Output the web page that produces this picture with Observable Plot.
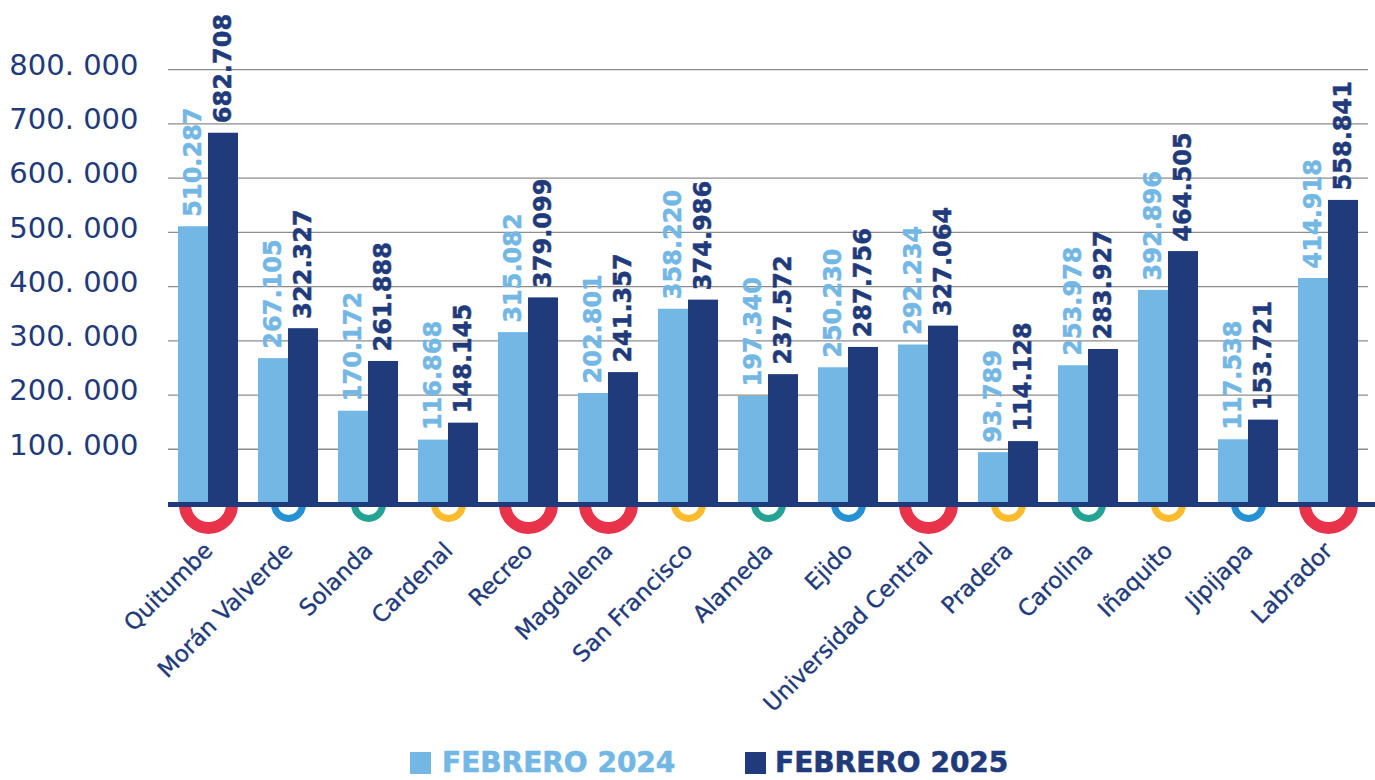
<!DOCTYPE html>
<html>
<head>
<meta charset="utf-8">
<script src="https://cdn.jsdelivr.net/npm/d3@7"></script>
<script src="https://cdn.jsdelivr.net/npm/@observablehq/plot@0.6"></script>
<style>
  html, body { margin: 0; padding: 0; background: #fff; }
  #wrap { width: 1375px; position: relative; font-family: "DejaVu Sans", sans-serif; }
  #legend { position: relative; height: 50px; width: 1375px; }
  .sw { position: absolute; top: 22px; width: 21px; height: 22px; }
  .lt { position: absolute; top: 17px; font-weight: bold; font-size: 28px; line-height: 32px; white-space: nowrap; -webkit-text-stroke: 0.6px currentColor; }
</style>
</head>
<body>
<div id="wrap">
  <div id="chart"></div>
  <div id="legend"></div>
</div>
<script>
// ---- data ----
const categories = ["Quitumbe","Morán Valverde","Solanda","Cardenal","Recreo","Magdalena","San Francisco","Alameda","Ejido","Universidad Central","Pradera","Carolina","Iñaquito","Jipijapa","Labrador"];
const feb2024 = [510287, 267105, 170172, 116868, 315082, 202801, 358220, 197340, 250230, 292234, 93789, 253978, 392896, 117538, 414918];
const feb2025 = [682708, 322327, 261888, 148145, 379099, 241357, 374986, 237572, 287756, 327064, 114128, 283927, 464505, 153721, 558841];
const markerLine = ["roja","azul","verde","amarilla","roja","roja","amarilla","verde","azul","roja","amarilla","verde","amarilla","azul","roja"];
const seriesNames = ["FEBRERO 2024", "FEBRERO 2025"];
const yTicks = [100000, 200000, 300000, 400000, 500000, 600000, 700000, 800000];
const lineTypes = ["roja","azul","verde","amarilla"];

// ---- styles ----
const LIGHT = "#73b7e5";
const DARK = "#1f3b7b";
const NAVY = "#1f3a7a";
const lineColors = ["#e8334a", "#2590d3", "#24a394", "#fbbb2a"];

const rows24 = categories.map((c, i) => ({cat: c, value: feb2024[i]}));
const rows25 = categories.map((c, i) => ({cat: c, value: feb2025[i]}));
const markers = categories.map((c, i) => ({cat: c, line: markerLine[i]}));

const loc = d3.formatLocale({decimal: ",", thousands: ".", grouping: [3], currency: ["", ""]});
const fmt = loc.format(",d");

const halfRing = {
  draw(context, size) {
    const r = Math.sqrt(size / Math.PI);
    context.moveTo(r, 0);
    context.arc(0, 0, r, 0, Math.PI);
  }
};

const chart = Plot.plot({
  width: 1375,
  height: 730,
  marginLeft: 168,
  marginRight: 7,
  marginTop: 42,
  marginBottom: 227,
  style: {fontFamily: "DejaVu Sans, sans-serif", background: "#fff", overflow: "visible"},
  x: {domain: categories, paddingInner: 0.25, paddingOuter: 0.125, axis: null},
  y: {domain: [0, 850000], axis: null, label: null},
  color: {domain: lineTypes, range: lineColors},
  marks: [
    Plot.gridY(yTicks, {stroke: "#8c8c8c", strokeOpacity: 1, strokeWidth: 1.3}),
    Plot.axisY(yTicks, {label: null, tickSize: 0, tickPadding: 30, fontSize: 29, fill: NAVY, dy: -4,
      tickFormat: d => `${d / 1000}. 000`}),
    Plot.barY(rows24, {x: "cat", y: "value", fill: LIGHT, insetRight: 30, insetLeft: 0}),
    Plot.barY(rows25, {x: "cat", y: "value", fill: DARK, insetLeft: 30, insetRight: 0}),
    Plot.text(rows24, {x: "cat", y: "value", text: d => fmt(d.value), rotate: -90, textAnchor: "start",
      lineAnchor: "middle", dx: -15, dy: -10, fill: LIGHT, stroke: LIGHT, strokeWidth: 0.5,
      fontSize: 24, fontWeight: "bold"}),
    Plot.text(rows25, {x: "cat", y: "value", text: d => fmt(d.value), rotate: -90, textAnchor: "start",
      lineAnchor: "middle", dx: 15, dy: -10, fill: DARK, stroke: DARK, strokeWidth: 0.5,
      fontSize: 24, fontWeight: "bold"}),
    Plot.dot(markers.filter(d => d.line === "roja"), {x: "cat", y: 0, symbol: halfRing, r: 23.5,
      fill: "none", stroke: "line", strokeWidth: 12, dy: 1}),
    Plot.dot(markers.filter(d => d.line !== "roja"), {x: "cat", y: 0, symbol: halfRing, r: 14,
      fill: "none", stroke: "line", strokeWidth: 7, dy: 1}),
    Plot.ruleY([0], {stroke: NAVY, strokeWidth: 5, dy: 1, insetRight: -7}),
    Plot.text(categories, {x: d => d, frameAnchor: "bottom", text: d => d, rotate: -45,
      textAnchor: "end", lineAnchor: "top", dx: -6, dy: 37, fill: NAVY, stroke: NAVY, strokeWidth: 0.35,
      fontSize: 23})
  ]
});
document.getElementById("chart").appendChild(chart);

// legend
const legend = document.getElementById("legend");
const legendItems = [
  {name: seriesNames[0], color: LIGHT, sx: 410, tx: 442},
  {name: seriesNames[1], color: DARK, sx: 745, tx: 775}
];
for (const it of legendItems) {
  const s = document.createElement("div");
  s.className = "sw"; s.style.left = it.sx + "px"; s.style.background = it.color;
  const t = document.createElement("div");
  t.className = "lt"; t.style.left = it.tx + "px"; t.style.color = it.color; t.textContent = it.name;
  legend.appendChild(s); legend.appendChild(t);
}
</script>
</body>
</html>
